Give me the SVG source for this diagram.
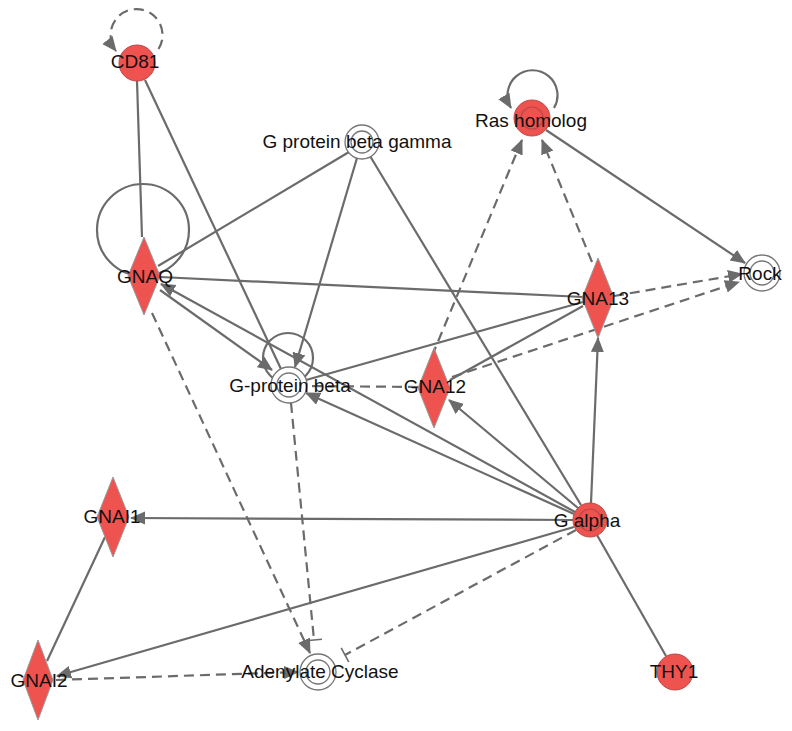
<svg xmlns="http://www.w3.org/2000/svg" width="792" height="731" viewBox="0 0 792 731">
<defs>
<marker id="arr" markerUnits="userSpaceOnUse" markerWidth="16" markerHeight="14" refX="14" refY="6.5" orient="auto">
<path d="M0,0 L15,6.5 L0,13 z" fill="#6b6b6b"/>
</marker>
<marker id="tee" markerUnits="userSpaceOnUse" markerWidth="6" markerHeight="18" refX="2" refY="8" orient="auto">
<path d="M2,0 L2,16" stroke="#6b6b6b" stroke-width="1.6"/>
</marker>
</defs>
<style>
.e{fill:none;stroke:#6b6b6b;stroke-width:2.2}
.d{stroke-dasharray:10 6}
.a{marker-end:url(#arr)}
.t{marker-end:url(#tee)}
.red{fill:#ef5350;stroke:#b84a48;stroke-width:1}
.ring{fill:none;stroke:#b84a48;stroke-width:1.2}
.wht{fill:#fff;stroke:#777;stroke-width:1.3}
.dia{fill:#ef5350;stroke:#999;stroke-width:1}
text{font-family:"Liberation Sans",Arial,sans-serif;font-size:19px;fill:#111;text-anchor:middle}
</style>
<rect width="792" height="731" fill="#fff"/>
<g id="connectors">
<path class="e d a" d="M158.5,49 A26,26 0 1 0 116,51"/>
<path class="e a" d="M554,108 A25,25 0 1 0 511,108"/>
<circle class="e" cx="143" cy="230" r="46"/>
<circle class="e" cx="288" cy="358" r="25"/>
<path class="e" d="M137,81 L142,237"/>
<path class="e" d="M145,80 L281,369"/>
<path class="e" d="M349,152 L158,266"/>
<path class="e a" d="M357,158 L295,367"/>
<path class="e" d="M370,156 L581,505"/>
<path class="e" d="M160,277 L583,297"/>
<path class="e a" d="M575,512 L161,284"/>
<path class="e a" d="M160,290 L272,370"/>
<path class="e d a" d="M152,313 L310,653"/>
<path class="e d t" d="M291,403 L314,640"/>
<path class="e d t" d="M576,530 L345,655"/>
<path class="e d a" d="M56,680 L298,672"/>
<path class="e a" d="M574,527 L57,676"/>
<path class="e a" d="M573,520 L131,518"/>
<path class="e" d="M105,537 L47,661"/>
<path class="e a" d="M578,508 L449,400"/>
<path class="e a" d="M591,503 L598,338"/>
<path class="e a" d="M574,514 L306,393"/>
<path class="e" d="M597,535 L666,656"/>
<path class="e" d="M583,302 L306,380"/>
<path class="e" d="M583,306 L450,380"/>
<path class="e d" d="M418,387 L307,386"/>
<path class="e d a" d="M432,356 L522,140"/>
<path class="e d a" d="M592,262 L542,140"/>
<path class="e d a" d="M614,296 L742,274"/>
<path class="e d a" d="M452,377 L739,282"/>
<path class="e a" d="M546,130 L745,263"/>
</g>
<g id="CD81"><circle class="red" cx="137" cy="63" r="18"/><text x="135" y="68">CD81</text></g>
<g id="RasHomolog"><circle class="red" cx="532" cy="118" r="18"/><circle class="ring" cx="532" cy="118" r="11"/><text x="531" y="127">Ras homolog</text></g>
<g id="GProteinBetaGamma"><circle class="wht" cx="362" cy="142" r="17"/><circle class="wht" cx="362" cy="142" r="11"/><text x="357" y="148">G protein beta gamma</text></g>
<g id="GNAQ"><path class="dia" d="M144,237 L160,276 L144,315 L128,276 z"/><text x="145" y="283">GNAQ</text></g>
<g id="GProteinBeta"><circle class="wht" cx="289" cy="385" r="18"/><circle class="wht" cx="289" cy="385" r="12"/><text x="290" y="392">G-protein beta</text></g>
<g id="GNA12"><path class="dia" d="M434,348 L450,388 L434,428 L418,388 z"/><text x="435" y="393">GNA12</text></g>
<g id="GNA13"><path class="dia" d="M598,258 L614,298 L598,338 L582,298 z"/><text x="598" y="305">GNA13</text></g>
<g id="Rock"><circle class="wht" cx="762" cy="273" r="18"/><circle class="wht" cx="762" cy="273" r="12"/><text x="760" y="280">Rock</text></g>
<g id="GAlpha"><circle class="red" cx="590" cy="520" r="17"/><circle class="ring" cx="590" cy="520" r="11"/><text x="587" y="527">G alpha</text></g>
<g id="GNAI1"><path class="dia" d="M113,477 L129,517 L113,557 L97,517 z"/><text x="112" y="523">GNAI1</text></g>
<g id="GNAI2"><path class="dia" d="M38,640 L53,680 L38,720 L23,680 z"/><text x="39" y="687">GNAI2</text></g>
<g id="AdenylateCyclase"><circle class="wht" cx="318" cy="672" r="18"/><circle class="wht" cx="318" cy="672" r="12"/><text x="320" y="678">Adenylate Cyclase</text></g>
<g id="THY1"><circle class="red" cx="675" cy="672" r="18"/><text x="674" y="678">THY1</text></g>
</svg>
